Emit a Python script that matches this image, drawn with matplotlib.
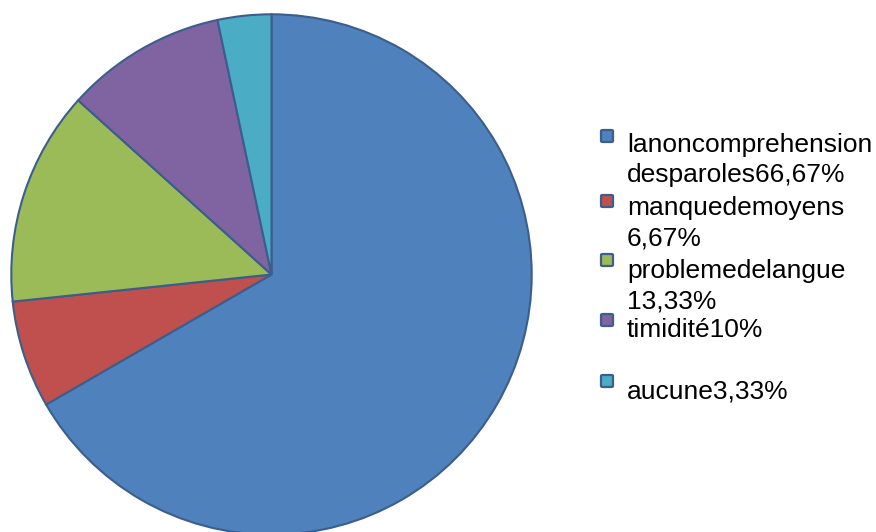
import matplotlib.pyplot as plt
from matplotlib.patches import FancyBboxPatch

labels = ["lanoncomprehension\ndesparoles66,67%", "manquedemoyens\n6,67%",
          "problemedelangue\n13,33%", "timidité10%", "aucune3,33%"]
values = [66.67, 6.67, 13.33, 10.0, 3.33]
colors = ["#4F81BD", "#C0504D", "#9BBB59", "#8064A2", "#4BACC6"]

W, H = 876, 532
fig = plt.figure(figsize=(W / 100, H / 100), dpi=100)
plt.rcParams["font.family"] = ["Liberation Sans", "DejaVu Sans"]

# pie area in pixels: x 10..533, y 13..536
ax = fig.add_axes([10 / W, (H - 536) / H, 523 / W, 523 / H])
ax.pie(values, colors=colors, startangle=90, counterclock=False, radius=1,
       wedgeprops=dict(edgecolor="#3B5E8C", linewidth=1.5))
ax.set_xlim(-1.005, 1.005)
ax.set_ylim(-1.005, 1.005)
ax.axis("off")

# legend, drawn by hand to mimic the spacing of the original
square_top = [130, 195, 254, 314, 375]
text_top = [133, 196, 259, 318, 379]
for lab, col, sq_y, ty in zip(labels, colors, square_top, text_top):
    sq = FancyBboxPatch((601 / W, (H - sq_y - 12) / H), 12 / W, 12 / H,
                        boxstyle="round,pad=0,rounding_size=0.002",
                        transform=fig.transFigure, facecolor=col,
                        edgecolor="#3B5E8C", linewidth=1.6)
    fig.patches.append(sq)
    fig.text(627 / W, (H - ty) / H, lab, fontsize=19, va="top",
             ha="left", linespacing=1.34, transform=fig.transFigure)

fig.savefig("out.png", dpi=100)
